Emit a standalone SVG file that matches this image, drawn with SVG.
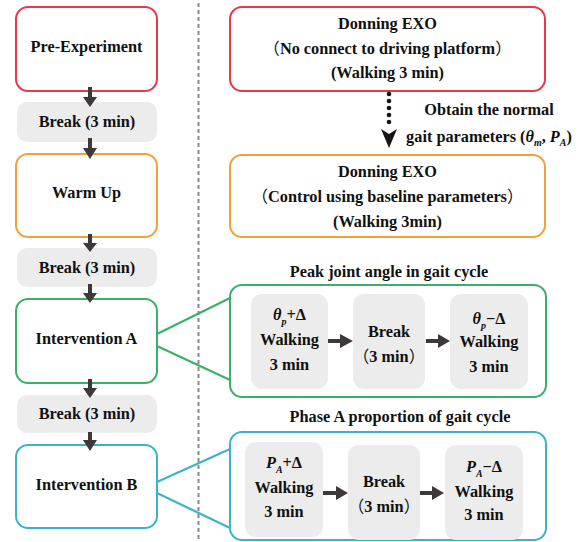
<svg xmlns="http://www.w3.org/2000/svg" width="588" height="542" viewBox="0 0 588 542">
<style>
text{font-family:"Liberation Serif","Times New Roman",serif;font-weight:bold;font-size:16.3px;fill:#111;text-anchor:middle}
.cjk{font-family:"Noto Sans CJK SC",sans-serif;font-weight:normal}
.box{fill:#fff;stroke-width:2}
.red{stroke:#e8384a}.orange{stroke:#f2a13a}.green{stroke:#3bb06b}.blue{stroke:#3cb4c8}
.gray{fill:#ececec}
.arr{fill:#3d3939}
.sub{font-size:10px;font-style:italic}
.it{font-style:italic}
.line{fill:none;stroke-width:2.2}
</style>
<rect width="588" height="542" fill="#fff"/>
<line x1="198.5" y1="3" x2="198.5" y2="542" stroke="#8a8a8a" stroke-width="2" stroke-dasharray="4,3"/>

<g id="pre-experiment"><rect class="box red" x="16" y="7" width="141" height="84" rx="12"/><text x="86.5" y="52">Pre-Experiment</text></g>
<g id="break1"><rect class="gray" x="17" y="102" width="140" height="40" rx="10"/><text x="87" y="127">Break (3 min)</text></g>
<g id="warm-up"><rect class="box orange" x="16" y="154" width="141" height="83" rx="12"/><text x="86.5" y="198">Warm Up</text></g>
<g id="break2"><rect class="gray" x="17" y="248" width="140" height="39" rx="10"/><text x="87" y="273">Break (3 min)</text></g>
<g id="intervention-a"><rect class="box green" x="16" y="299" width="141" height="84" rx="12"/><text x="86.5" y="344">Intervention A</text></g>
<g id="break3"><rect class="gray" x="17" y="395" width="140" height="38" rx="10"/><text x="87" y="419">Break (3 min)</text></g>
<g id="intervention-b"><rect class="box blue" x="16" y="445" width="141" height="83" rx="12"/><text x="86.5" y="490">Intervention B</text></g>

<g id="donning1"><rect class="box red" x="230" y="7" width="315" height="84" rx="12"/>
<text x="387.5" y="29">Donning EXO</text>
<text x="387.5" y="54"><tspan class="cjk">（</tspan>No connect to driving platform<tspan class="cjk">）</tspan></text>
<text x="387.5" y="78">(Walking 3 min)</text></g>

<g id="obtain-label">
<text x="489" y="115">Obtain the normal</text>
<text x="489" y="142">gait parameters (<tspan class="it">θ</tspan><tspan class="sub" dy="4">m</tspan><tspan dy="-4">, </tspan><tspan class="it">P</tspan><tspan class="sub" dy="4">A</tspan><tspan dy="-4">)</tspan></text>
</g>

<g id="donning2"><rect class="box orange" x="230" y="155" width="315" height="82" rx="12"/>
<text x="387.5" y="177">Donning EXO</text>
<text x="387.5" y="202"><tspan class="cjk">（</tspan>Control using baseline parameters<tspan class="cjk">）</tspan></text>
<text x="387.5" y="227">(Walking 3min)</text></g>

<g id="group-a">
<text x="389" y="277">Peak joint angle in gait cycle</text>
<rect class="box green" x="230" y="285" width="316" height="112" rx="12"/>
</g>
<g id="a-plus"><rect class="gray" x="251" y="294" width="77" height="95" rx="11"/>
<text x="289.5" y="320"><tspan class="it">θ</tspan><tspan class="sub" dy="5">p</tspan><tspan dy="-5">+Δ</tspan></text>
<text x="289.5" y="345">Walking</text><text x="289.5" y="370">3 min</text></g>
<g id="a-break"><rect class="gray" x="353" y="294" width="72" height="95" rx="11"/>
<text x="389" y="337">Break</text><text x="389" y="362"><tspan class="cjk">（</tspan>3 min<tspan class="cjk">）</tspan></text></g>
<g id="a-minus"><rect class="gray" x="450" y="294" width="78" height="95" rx="11"/>
<text x="489" y="324"><tspan class="it">θ</tspan><tspan class="sub" dy="5">p</tspan><tspan dy="-5">−Δ</tspan></text>
<text x="489" y="347">Walking</text><text x="489" y="372">3 min</text></g>

<g id="group-b">
<text x="400" y="422">Phase A proportion of gait cycle</text>
<rect class="box blue" x="230" y="432" width="316" height="108" rx="12"/>
</g>
<g id="b-plus"><rect class="gray" x="245" y="442" width="78" height="95" rx="11"/>
<text x="284" y="468"><tspan class="it">P</tspan><tspan class="sub" dy="5">A</tspan><tspan dy="-5">+Δ</tspan></text>
<text x="284" y="493">Walking</text><text x="284" y="517">3 min</text></g>
<g id="b-break"><rect class="gray" x="348" y="445" width="72" height="95" rx="11"/>
<text x="384" y="487">Break</text><text x="384" y="512"><tspan class="cjk">（</tspan>3 min<tspan class="cjk">）</tspan></text></g>
<g id="b-minus"><rect class="gray" x="445" y="445" width="78" height="95" rx="11"/>
<text x="484" y="472"><tspan class="it">P</tspan><tspan class="sub" dy="5">A</tspan><tspan dy="-5">−Δ</tspan></text>
<text x="484" y="497">Walking</text><text x="484" y="520">3 min</text></g>

<g id="connectors">
<path class="arr" d="M88,87h4v10h5l-7,10l-7,-10h5z"/>
<path class="arr" d="M88,138h4v10h5l-7,11l-7,-11h5z"/>
<path class="arr" d="M88,234h4v9h5l-7,9l-7,-9h5z"/>
<path class="arr" d="M88,284h4v9h5l-7,10l-7,-10h5z"/>
<path class="arr" d="M88,379h4v9h5l-7,10l-7,-10h5z"/>
<path class="arr" d="M88,432h4v8h5l-7,11l-7,-11h5z"/>
<g fill="#1a1414"><circle cx="389" cy="94" r="2.3"/><circle cx="389" cy="101" r="2.3"/><circle cx="389" cy="108" r="2.3"/><circle cx="389" cy="115" r="2.3"/><circle cx="389" cy="122" r="2.3"/></g>
<path fill="#1a1414" d="M381,129L389,134L397,129L389,148Z"/>
<path class="arr" d="M328,339h12v-5l13,7l-13,7v-5h-12z"/>
<path class="arr" d="M426,339h12v-5l12,7l-12,7v-5h-12z"/>
<path class="arr" d="M323,491h13v-5l12,7l-12,7v-5h-13z"/>
<path class="arr" d="M420,491h12v-5l12,7l-12,7v-5h-12z"/>
<path class="line" stroke="#3bb06b" d="M157,334L230,298M157,346L230,380"/>
<path class="line" stroke="#3cb4c8" d="M157,482L230,449M157,493L230,528"/>
</g>
</svg>
